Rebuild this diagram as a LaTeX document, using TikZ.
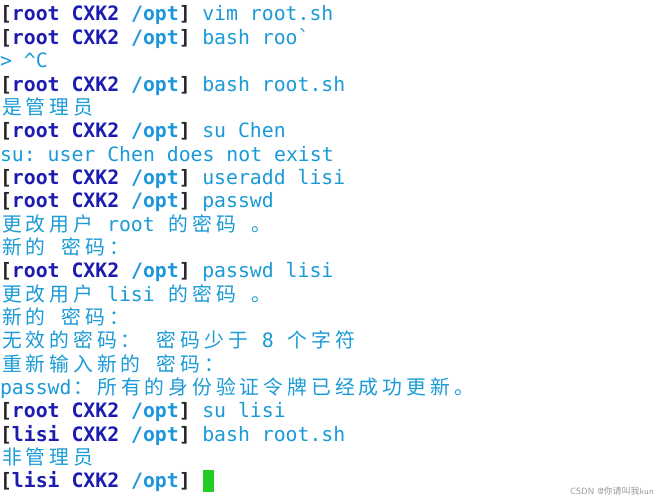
\documentclass[tikz,border=0pt]{standalone}
\usepackage{fontspec}
\setmonofont{DejaVu Sans Mono}
\newfontfamily\cjkf{Noto Sans CJK SC}
\definecolor{pdark}{HTML}{1C1CB0}
\definecolor{plight}{HTML}{1E96DC}
\definecolor{cmd}{HTML}{1A9AD6}
\definecolor{curs}{HTML}{22CC22}
\definecolor{wm}{HTML}{999999}
\ExplSyntaxOn
\NewDocumentCommand\cj{m}{\cjkf\tl_map_inline:nn{#1}{\makebox[23.8pt][c]{##1}}}
\ExplSyntaxOff
\newcommand\fs{\fontsize{19.8pt}{22pt}\selectfont\ttfamily}
\tikzset{seg/.style={anchor=base west,inner sep=0pt,outer sep=0pt,font=\fs,text=cmd}}
\newcommand\rowy[1]{500-21-23.35*(#1-1)}
\newcommand\seg[4][]{\node[seg,#1] (r#2c#3) at ({11.9*#3},{\rowy{#2}}) {#4};}
\newcommand\prm[2]{\node[seg] (p#1) at (0,{\rowy{#1}}) {\textbf{\textcolor{black!85}{[}\textcolor{pdark}{#2 CXK2} \textcolor{plight}{/opt}\textcolor{black!85}{]}}};}
\begin{document}
\begin{tikzpicture}[x=1pt,y=1pt]
\useasboundingbox (0,0) rectangle (661,500);
\fill[white] (0,0) rectangle (661,500);
\prm{1}{root}\seg{1}{17}{vim root.sh}
\prm{2}{root}\seg{2}{17}{bash roo`}
\seg{3}{0}{> \^{}C}
\prm{4}{root}\seg{4}{17}{bash root.sh}
\seg{5}{0}{\cj{是管理员}}
\prm{6}{root}\seg{6}{17}{su Chen}
\seg{7}{0}{su: user Chen does not exist}
\prm{8}{root}\seg{8}{17}{useradd lisi}
\prm{9}{root}\seg{9}{17}{passwd}
\seg{10}{0}{\cj{更改用户}}\seg{10}{9}{root}\seg{10}{14}{\cj{的密码}}\seg{10}{21}{\cj{。}}
\seg{11}{0}{\cj{新的}}\seg{11}{5}{\cj{密码：}}
\prm{12}{root}\seg{12}{17}{passwd lisi}
\seg{13}{0}{\cj{更改用户}}\seg{13}{9}{lisi}\seg{13}{14}{\cj{的密码}}\seg{13}{21}{\cj{。}}
\seg{14}{0}{\cj{新的}}\seg{14}{5}{\cj{密码：}}
\seg{15}{0}{\cj{无效的密码：}}\seg{15}{13}{\cj{密码少于}}\seg{15}{22}{8}\seg{15}{24}{\cj{个字符}}
\seg{16}{0}{\cj{重新输入新的}}\seg{16}{13}{\cj{密码：}}
\seg{17}{0}{passwd}\seg{17}{6}{\cj{：所有的身份验证令牌已经成功更新。}}
\prm{18}{root}\seg{18}{17}{su lisi}
\prm{19}{lisi}\seg{19}{17}{bash root.sh}
\seg{20}{0}{\cj{非管理员}}
\prm{21}{lisi}
\fill[curs] (203,8) rectangle (214,30);
\node[anchor=east,inner sep=0pt,font=\sffamily\fontsize{9pt}{10pt}\selectfont,text=wm] (wm) at (654,9) {CSDN @{\cjkf 你请叫我}kun};
\end{tikzpicture}
\end{document}
